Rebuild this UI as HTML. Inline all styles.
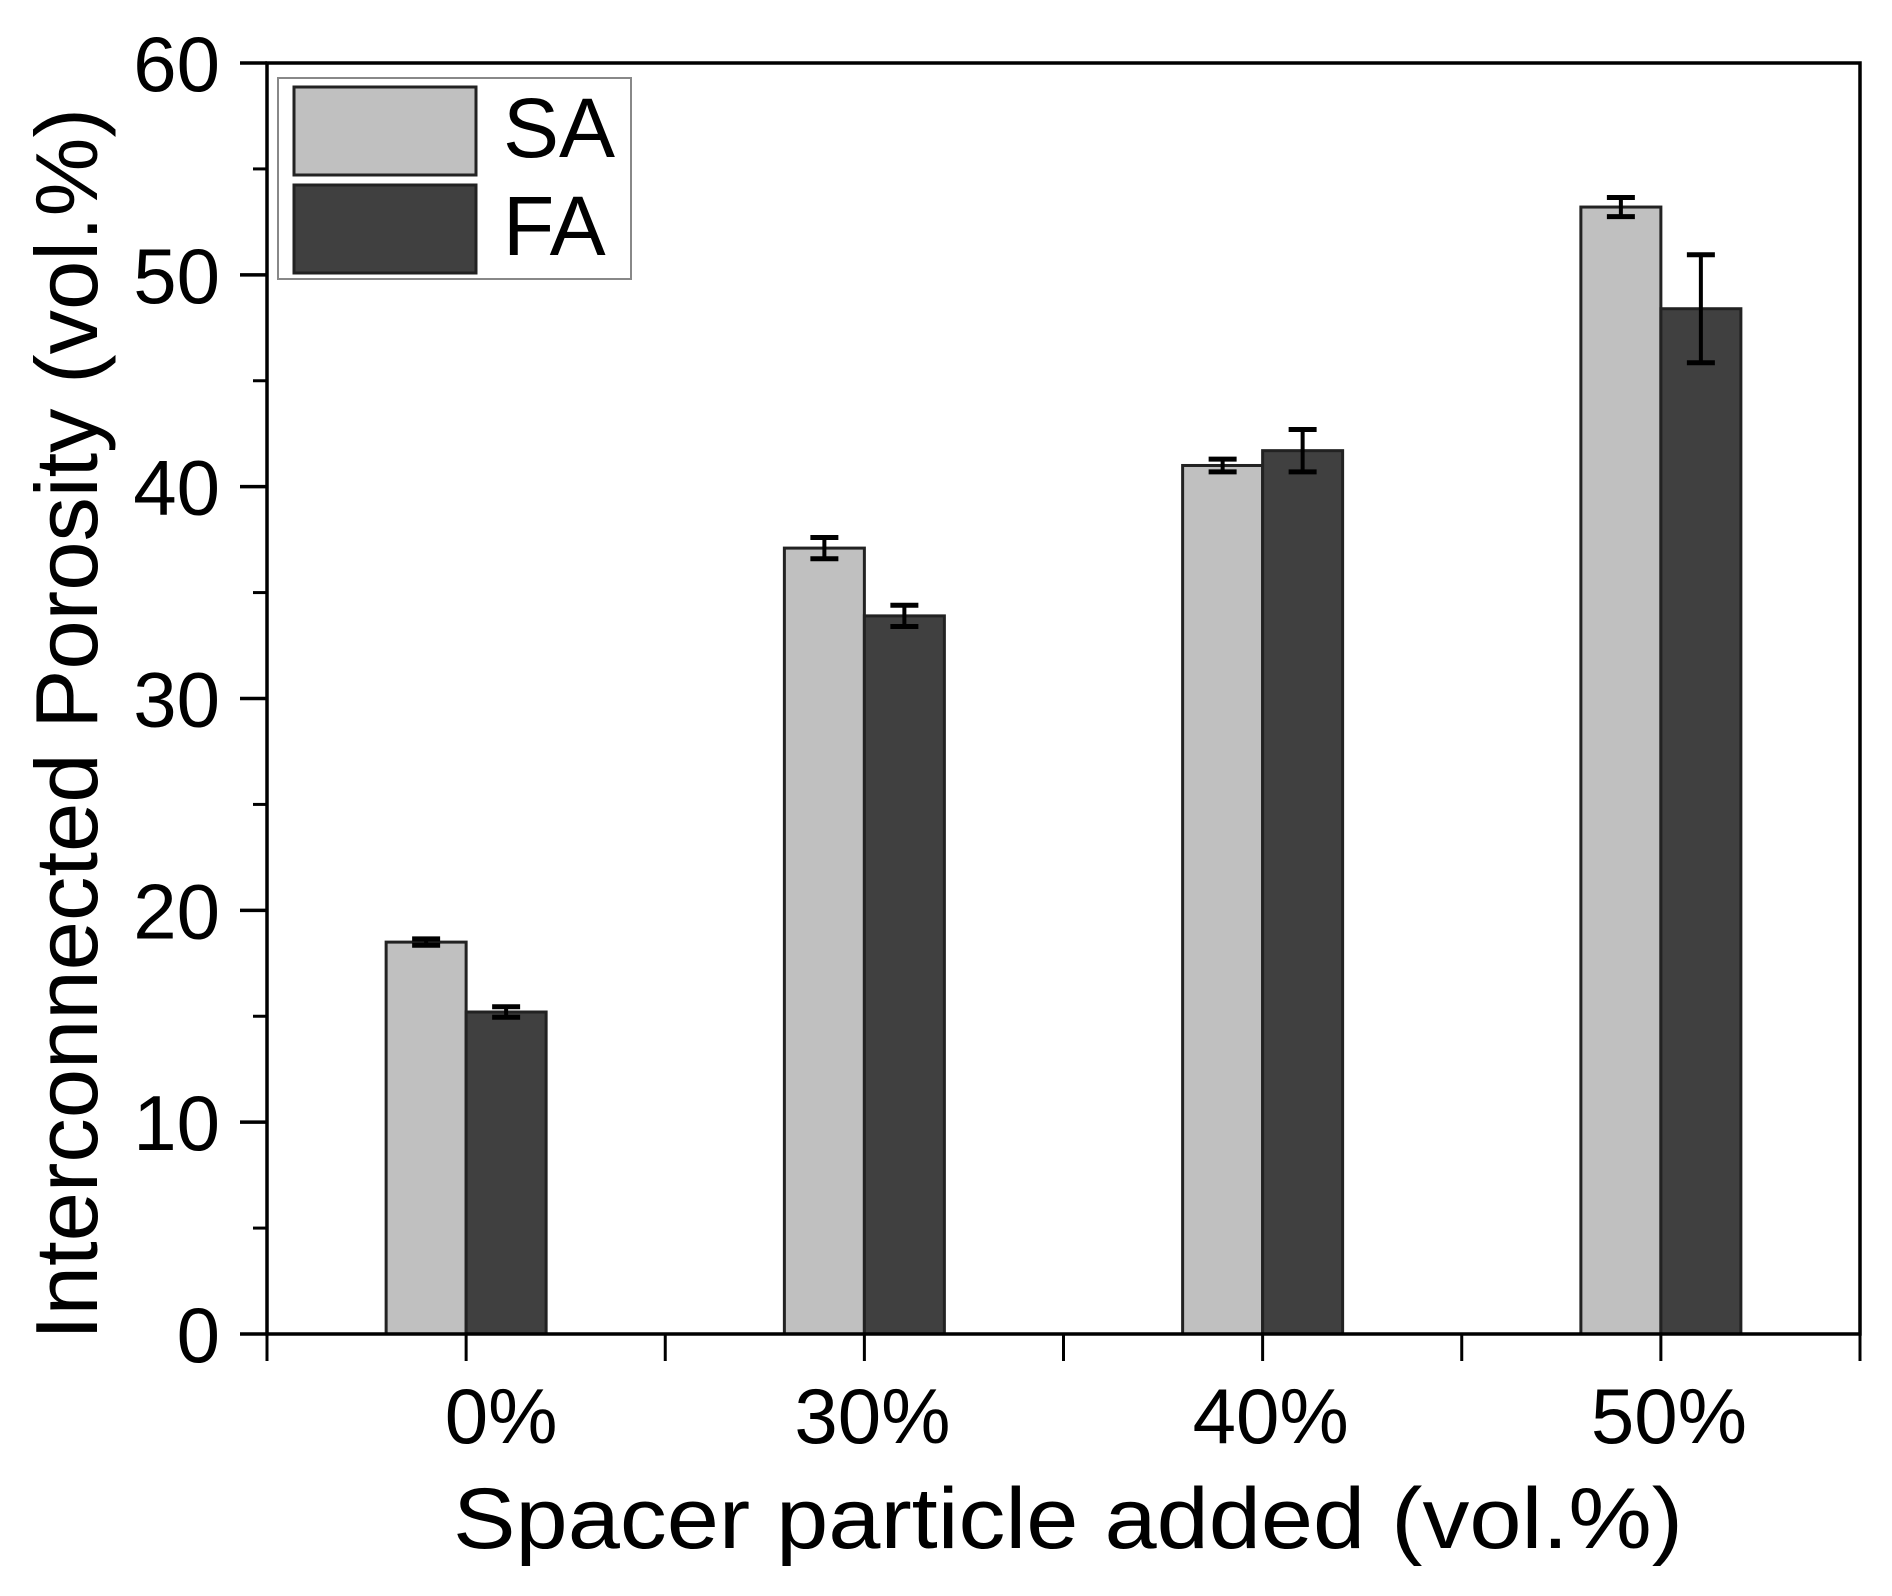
<!DOCTYPE html>
<html><head><meta charset="utf-8"><style>html,body{margin:0;padding:0;background:#fff}svg{display:block}text{font-family:"Liberation Sans",Arial,sans-serif;fill:#000}</style></head>
<body>
<svg id="chart" width="1892" height="1596" viewBox="0 0 1892 1596">
<g id="marks"></g>
<g id="axes"></g>
<g>
<rect x="278" y="78" width="353" height="201" fill="#fff" stroke="#888" stroke-width="2"/>
<rect x="294" y="87" width="182" height="88" fill="#c0c0c0" stroke="#222" stroke-width="3"/>
<rect x="294" y="185" width="182" height="88" fill="#404040" stroke="#222" stroke-width="3"/>
<text x="503" y="157" font-size="84">SA</text>
<text x="503" y="255" font-size="84">FA</text>
</g>
<text x="1068" y="1548" font-size="86" text-anchor="middle" textLength="1230" lengthAdjust="spacingAndGlyphs">Spacer particle added (vol.%)</text>
<text transform="translate(97,724) rotate(-90)" font-size="88" text-anchor="middle" textLength="1232" lengthAdjust="spacingAndGlyphs">Interconnected Porosity (vol.%)</text>
</svg>
<script>
const categories = ["0%", "30%", "40%", "50%"];
const saValues = [18.5, 37.1, 41.0, 53.2];
const saErrors = [0.15, 0.5, 0.3, 0.45];
const faValues = [15.2, 33.9, 41.7, 48.4];
const faErrors = [0.25, 0.5, 1.0, 2.55];
const yTicks = [0, 10, 20, 30, 40, 50, 60];
const yMinor = [5, 15, 25, 35, 45, 55];

const NS = "http://www.w3.org/2000/svg";
const X0 = 267, X1 = 1860, Y0 = 1334, Y1 = 63, YMAX = 60;
const band = (X1 - X0) / categories.length;
const barW = 80;
function xCenter(i) { return X0 + band * (i + 0.5); }
function y(v) { return Y0 - (v / YMAX) * (Y0 - Y1); }
function mk(tag, attrs, parent) {
  const e = document.createElementNS(NS, tag);
  for (const k in attrs) e.setAttribute(k, attrs[k]);
  parent.appendChild(e);
  return e;
}
const marks = document.getElementById('marks');
const axes = document.getElementById('axes');

function drawSeries(vals, errs, offset, fill, name) {
  vals.forEach((v, i) => {
    const cx = xCenter(i);
    const x = cx + offset;
    const r = mk('rect', {x: x, y: y(v), width: barW, height: Y0 - y(v), fill: fill, stroke: '#222', 'stroke-width': 3}, marks);
    
    
    const ex = x + barW / 2;
    const g = mk('g', {stroke: '#000', 'stroke-width': 4}, marks);
    
    
    mk('line', {x1: ex, x2: ex, y1: y(v + errs[i]), y2: y(v - errs[i])}, g);
    mk('line', {x1: ex - 14, x2: ex + 14, y1: y(v + errs[i]), y2: y(v + errs[i]), 'stroke-width': 5}, g);
    mk('line', {x1: ex - 14, x2: ex + 14, y1: y(v - errs[i]), y2: y(v - errs[i]), 'stroke-width': 5}, g);
  });
}
drawSeries(saValues, saErrors, -barW, '#c0c0c0', 'sa');
drawSeries(faValues, faErrors, 0, '#404040', 'fa');

const frame = mk('rect', {x: X0, y: Y1, width: X1 - X0, height: Y0 - Y1, fill: 'none', stroke: '#000', 'stroke-width': 3.5}, axes);



yTicks.forEach(t => {
  const l = mk('line', {x1: X0 - 27, x2: X0, y1: y(t), y2: y(t), stroke: '#000', 'stroke-width': 3.5}, axes);
  
  
  const tx = mk('text', {x: 220, y: y(t) + 28, 'font-size': 78, 'text-anchor': 'end'}, axes);
  tx.textContent = t;
  
  
});
yMinor.forEach(t => {
  const l = mk('line', {x1: X0 - 14, x2: X0, y1: y(t), y2: y(t), stroke: '#000', 'stroke-width': 3}, axes);
  
  
});
for (let i = 0; i <= categories.length; i++) {
  const bx = X0 + band * i;
  const l = mk('line', {x1: bx, x2: bx, y1: Y0, y2: Y0 + 27, stroke: '#000', 'stroke-width': 3}, axes);
  
  
}
categories.forEach((c, i) => {
  const cx = xCenter(i);
  const l = mk('line', {x1: cx, x2: cx, y1: Y0, y2: Y0 + 27, stroke: '#000', 'stroke-width': 3}, axes);
  
  
  const tx = mk('text', {x: cx + (i === 0 ? 35 : 8), y: 1443, 'font-size': 78, 'text-anchor': 'middle'}, axes);
  tx.textContent = c;
  
  
});
</script>
</body></html>
